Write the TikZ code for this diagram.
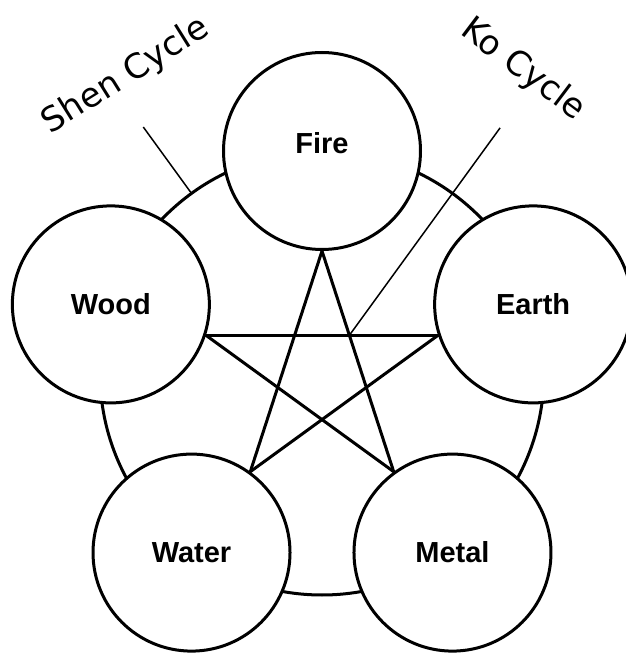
\documentclass[tikz,border=0pt]{standalone}
\usepackage{fontspec}
\setmainfont{Liberation Sans}
\newfontfamily\cyclefont{DejaVu Sans}
\usetikzlibrary{backgrounds}

\begin{document}
\begin{tikzpicture}[
  x=1pt, y=1pt,
  font=\fontsize{29}{35}\selectfont\bfseries,
  element/.style={circle, draw=black, line width=3pt, fill=white,
                  minimum size=197pt, inner sep=0pt},
  star/.style={line width=3pt, line cap=round},
  ring/.style={line width=3pt},
  leader/.style={line width=1.5pt},
  cyclelabel/.style={font=\cyclefont\fontsize{34}{40}\selectfont,
                     inner sep=0pt},
]

\useasboundingbox (-322,-280) rectangle (304,373);

\coordinate (hub) at (0,0);

\node[element, text depth=16pt] (fire) at (90:222)  {Fire};
\node[element] (wood)  at (162:222) {Wood};
\node[element] (water) at (234:222) {Water};
\node[element] (metal) at (306:222) {Metal};
\node[element] (earth) at (18:222)  {Earth};

% shen cycle: the ring behind the elements
\begin{scope}[on background layer]
  \draw[ring] (hub) circle (222);
\end{scope}

% ko cycle: the pentagram
\draw[star] (fire.south) -- (water.54);
\draw[star] (fire.south) -- (metal.126);
\draw[star] (wood.-18)   -- (earth.198);
\draw[star] (wood.-18)   -- (metal.126);
\draw[star] (earth.198)  -- (water.54);

% leaders and labels
\coordinate (shenfoot) at (126:222);
\coordinate (shentip)  at (126:304);
\coordinate (kofoot) at (intersection of fire.south--metal.126 and wood.-18--earth.198);
\coordinate (kotip)  at (54:303);

\draw[leader] (shenfoot) -- (shentip);
\draw[leader] (kofoot) -- (kotip);

\node[cyclelabel, rotate=32] (shen) at (-196,297) {Shen Cycle};
\node[cyclelabel, rotate=-37] (ko) at (201,303) {Ko Cycle};

\end{tikzpicture}
\end{document}
